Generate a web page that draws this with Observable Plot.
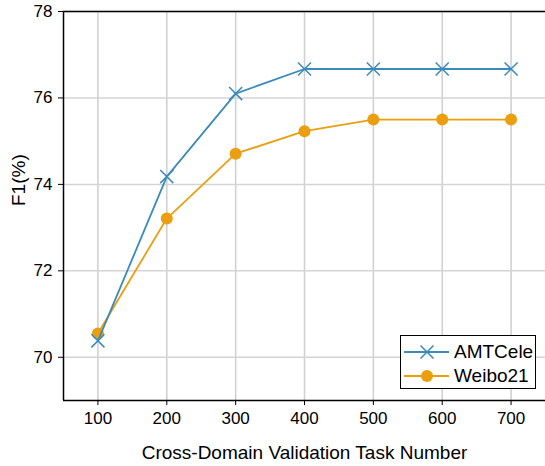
<!DOCTYPE html>
<html>
<head>
<meta charset="utf-8">
<script src="https://cdn.jsdelivr.net/npm/d3@7"></script>
<script src="https://cdn.jsdelivr.net/npm/@observablehq/plot@0.6"></script>
<style>
  body { margin: 0; background: #fff; }
  #wrap { position: relative; width: 545px; height: 466px; font-family: "Liberation Sans", Arial, sans-serif; }
  #legend { position: absolute; left: 400px; top: 335px; width: 136px; height: 54px; border: 1px solid #000; background: #fff; box-sizing: border-box; }
  #legend .row { position: absolute; left: 0; height: 24px; display: flex; align-items: center; }
  #legend .row span { font-size: 19px; color: #000; margin-left: 3px; }
</style>
</head>
<body>
<div id="wrap"></div>
<script>
const tasks = [100, 200, 300, 400, 500, 600, 700];
const amtcele = [70.38, 74.18, 76.10, 76.67, 76.67, 76.67, 76.67];
const weibo21 = [70.55, 73.21, 74.71, 75.23, 75.50, 75.50, 75.50];
const seriesNames = ["AMTCele", "Weibo21"];
const colors = ["#3a8abb", "#eb9f0e"];
const xDomain = [50, 750];
const yDomain = [69, 78];
const yTicks = [70, 72, 74, 76, 78];
const xLabel = "Cross-Domain Validation Task Number";
const yLabel = "F1(%)";

const dataA = tasks.map((t, i) => ({task: t, f1: amtcele[i]}));
const dataW = tasks.map((t, i) => ({task: t, f1: weibo21[i]}));

const chart = Plot.plot({
  width: 545,
  height: 466,
  marginLeft: 63,
  marginRight: 0,
  marginTop: 11,
  marginBottom: 66,
  style: {fontFamily: "Liberation Sans, Arial, sans-serif", fontSize: "17px", color: "#000", background: "#fff"},
  x: {domain: xDomain},
  y: {domain: yDomain},
  marks: [
    Plot.gridX(tasks, {stroke: "#cfcfcf", strokeOpacity: 1, strokeWidth: 1.5}),
    Plot.gridY(yTicks, {stroke: "#d4d4d4", strokeOpacity: 1, strokeWidth: 1.5}),
    Plot.ruleY([yDomain[1]], {stroke: "#000", strokeWidth: 1.5}),
    Plot.ruleY([yDomain[0]], {stroke: "#000", strokeWidth: 1.5}),
    Plot.ruleX([xDomain[0]], {stroke: "#000", strokeWidth: 1.5}),
    Plot.axisX(tasks, {tickSize: 5, tickPadding: 6, label: null, fontSize: 17}),
    Plot.axisY(yTicks, {tickSize: 5, tickPadding: 6, label: null, fontSize: 17}),
    Plot.text([xLabel], {frameAnchor: "bottom", dy: 52, lineAnchor: "middle", fontSize: 19, fill: "#000"}),
    Plot.text([yLabel], {frameAnchor: "left", dx: -45, rotate: -90, lineAnchor: "middle", fontSize: 19, fill: "#000"}),
    Plot.line(dataW, {x: "task", y: "f1", stroke: colors[1], strokeWidth: 1.8}),
    Plot.dot(dataW, {x: "task", y: "f1", fill: colors[1], r: 6}),
    Plot.line(dataA, {x: "task", y: "f1", stroke: colors[0], strokeWidth: 1.8}),
    Plot.dot(dataA, {x: "task", y: "f1", stroke: colors[0], symbol: "times", r: 6, strokeWidth: 1.5})
  ]
});
const wrap = document.getElementById("wrap");
wrap.appendChild(chart);

// legend
const legend = document.createElement("div");
legend.id = "legend";
const symbols = ["times", "circle"];
seriesNames.forEach((name, i) => {
  const row = document.createElement("div");
  row.className = "row";
  row.style.top = (4 + i * 24) + "px";
  const ns = "http://www.w3.org/2000/svg";
  const svg = document.createElementNS(ns, "svg");
  svg.setAttribute("width", 50);
  svg.setAttribute("height", 24);
  const line = document.createElementNS(ns, "line");
  line.setAttribute("x1", 3); line.setAttribute("x2", 48);
  line.setAttribute("y1", 12); line.setAttribute("y2", 12);
  line.setAttribute("stroke", colors[i]); line.setAttribute("stroke-width", 1.8);
  svg.appendChild(line);
  if (symbols[i] === "times") {
    const p = document.createElementNS(ns, "path");
    p.setAttribute("d", "M19.5,5.5L32.5,18.5M19.5,18.5L32.5,5.5");
    p.setAttribute("stroke", colors[i]); p.setAttribute("stroke-width", 1.5); p.setAttribute("fill", "none");
    svg.appendChild(p);
  } else {
    const c = document.createElementNS(ns, "circle");
    c.setAttribute("cx", 26); c.setAttribute("cy", 12); c.setAttribute("r", 6);
    c.setAttribute("fill", colors[i]);
    svg.appendChild(c);
  }
  row.appendChild(svg);
  const label = document.createElement("span");
  label.textContent = name;
  row.appendChild(label);
  legend.appendChild(row);
});
wrap.appendChild(legend);
</script>
</body>
</html>
